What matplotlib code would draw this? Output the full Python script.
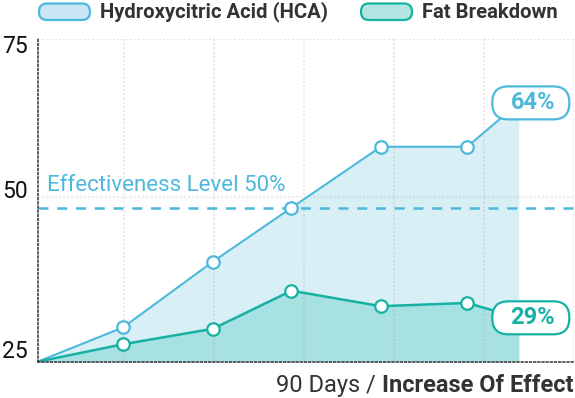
import matplotlib.pyplot as plt
from matplotlib.patches import FancyBboxPatch
from matplotlib.transforms import ScaledTranslation

plt.rcParams['font.family'] = ['Roboto', 'DejaVu Sans']

# data
days = [0.6, 14.8, 29.8, 42.9, 57.8, 72.2, 80.8]
hca = [25, 30.3, 40.5, 48.85, 58.3, 58.3, 65.1]
fat = [25, 27.7, 30.1, 36.0, 33.6, 34.1, 31.8]
series_names = ["Hydroxycitric Acid (HCA)", "Fat Breakdown"]
end_labels = ["64%", "29%"]
y_ticks = [25, 50, 75]
x_grid = [15, 30, 45, 60, 75, 90]
effect_level = 48.85
effect_text = "Effectiveness Level 50%"
xlabel_plain = "90 Days / "
xlabel_bold = "Increase Of Effect"

blue = "#4cb9dc"
blue_fill = "#d9eff6"
teal = "#16b1a3"
teal_fill = "#a7e1e1"
dark = "#333333"

W, H = 575, 398
fig = plt.figure(figsize=(W / 100, H / 100), dpi=100)
ax = fig.add_axes([37.7 / W, 1 - 361.7 / H, 536.3 / W, 322.7 / H])
ax.set_xlim(0.6, 90)
ax.set_ylim(25, 75)

ax.fill_between(days, hca, 25, color=blue_fill, lw=0, zorder=1)
ax.fill_between(days, fat, 25, color=teal_fill, lw=0, zorder=1.1)

for x in x_grid:
    ax.axvline(x, color="#999999", alpha=0.2, lw=1.5, ls=(0, (1, 1)), zorder=1.5)
ax.axhline(75, color="#999999", alpha=0.25, lw=1.5, ls=(0, (1, 1)), zorder=1.5)
ax.axhline(50.56, color="#999999", alpha=0.2, lw=1.5, ls=(0, (1, 1)), zorder=1.5)

ax.axhline(effect_level, color=blue, lw=1.8, ls=(0, (4, 3.5)), zorder=2)
ax.text(2.2, effect_level + 2.6, effect_text, color=blue, fontsize=16, va="baseline", ha="left")

ax.plot(days, hca, color=blue, lw=1.5, zorder=3)
ax.plot(days[1:-1], hca[1:-1], "o", ms=9, mfc="white", mec=blue, mew=1.6, zorder=4)
ax.plot(days, fat, color=teal, lw=1.8, zorder=3)
ax.plot(days[1:-1], fat[1:-1], "o", ms=9, mfc="white", mec=teal, mew=1.6, zorder=4)

# end-value callouts (pill boxes drawn in pixels)
for vals, lab, col in [(hca, end_labels[0], blue), (fat, end_labels[1], teal)]:
    px, py = ax.transData.transform((days[-1], vals[-1]))
    box = FancyBboxPatch((px + 12 - 38.5, py - 16.5), 77, 33,
                         boxstyle="round,pad=0,rounding_size=16", transform=None,
                         fc="white", ec=col, lw=1.6, zorder=5)
    fig.patches.append(box)
    fig.text((px + 14) / W, py / H, lab, ha="center", va="center", color=col,
             fontsize=17, fontweight="bold", zorder=6)

# spines
for s in ["top", "right"]:
    ax.spines[s].set_visible(False)
for s in ["left", "bottom"]:
    ax.spines[s].set_linestyle((0, (1, 1.5)))
    ax.spines[s].set_color("#444444")
    ax.spines[s].set_linewidth(1.2)
    ax.spines[s].set_zorder(6)
ax.set_xticks([])
ax.set_yticks([])

# y tick labels, nudged like the reference
nudges = {25: 10, 50: 8.6, 75: -7.5}
for t in y_ticks:
    tr = ax.get_yaxis_transform() + ScaledTranslation(0, nudges[t] / 100, fig.dpi_scale_trans)
    ax.text(-0.018, t, str(t), transform=tr, ha="right", va="center", fontsize=16.5, color="#111111")

# x axis label: plain part + bold part
xl = fig.text(573 / W, (H - 391.7) / H, xlabel_bold, ha="right", va="baseline",
              fontsize=17, fontweight="bold", color=dark)
fig.canvas.draw()
bb = xl.get_window_extent()
fig.text(bb.x0 / W, (H - 391.7) / H, xlabel_plain, ha="right", va="baseline", fontsize=17, color=dark)

# legend pills
legend_x = [39, 361]
for name, x0, ec, fc in zip(series_names, legend_x, [blue, teal], ["#c8e6f3", "#b5e5e2"]):
    pill = FancyBboxPatch((x0, H - 20), 51, 16.5, boxstyle="round,pad=0,rounding_size=8",
                          transform=None, fc=fc, ec=ec, lw=1.6)
    fig.patches.append(pill)
    fig.text((x0 + 61) / W, 1 - 12 / H, name, ha="left", va="center", fontsize=14.6,
             fontweight="bold", color=dark)

fig.savefig("out.png", dpi=100)
